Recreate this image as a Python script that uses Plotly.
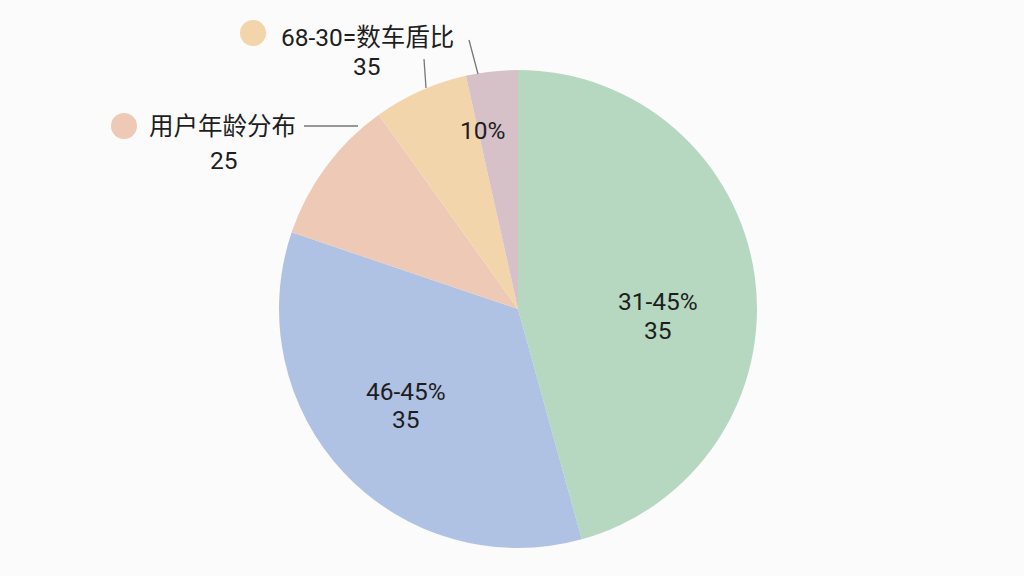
import plotly.graph_objects as go

# slice data, clockwise from 12 o'clock
slice_names = ["31-45%", "46-45%", "用户年龄分布", "68-30=数车盾比", "10%"]
slice_shares = [45.7, 34.5, 9.9, 6.4, 3.5]
slice_values_shown = ["35", "35", "25", "35", ""]
slice_colors = ["#b6d8c1", "#b0c2e4", "#eec9b5", "#f3d5ab", "#d6c1c9"]

W, H = 1024, 576


def px(x):
    return x / W


def py(y):
    return 1 - y / H


cx, cy, r = 518, 309, 239

fig = go.Figure(go.Pie(
    labels=slice_names,
    values=slice_shares,
    sort=False,
    direction="clockwise",
    rotation=0,
    marker=dict(colors=slice_colors, line=dict(width=0)),
    textinfo="none",
    hoverinfo="label+value",
    showlegend=False,
    domain=dict(x=[px(cx - r), px(cx + r)], y=[py(cy + r), py(cy - r)]),
))

font = dict(family="Roboto, Noto Sans CJK SC", size=24.5, color="#1e1e1e")


def label(x, y, txt):
    fig.add_annotation(x=px(x), y=py(y), xref="paper", yref="paper", text=txt,
                       showarrow=False, font=font, xanchor="center", yanchor="middle")


# inside labels
label(658, 301, slice_names[0])
label(658, 330, slice_values_shown[0])
label(406, 391, slice_names[1])
label(406, 419, slice_values_shown[1])
label(482, 130, slice_names[4])

# outside labels
label(367, 37, slice_names[3])
label(367, 67, slice_values_shown[3])
label(222, 126, slice_names[2])
label(224, 160, slice_values_shown[2])

# dots
for (dx, dy, col) in [(253, 33, slice_colors[3]), (124, 126, slice_colors[2])]:
    fig.add_shape(type="circle", xref="paper", yref="paper",
                  x0=px(dx - 13), x1=px(dx + 13), y0=py(dy + 13), y1=py(dy - 13),
                  fillcolor=col, line=dict(width=0))

# leader lines
for (x0, y0, x1, y1) in [(304, 126, 358, 126), (424, 59, 426, 88), (469, 40, 478, 74)]:
    fig.add_shape(type="line", xref="paper", yref="paper",
                  x0=px(x0), y0=py(y0), x1=px(x1), y1=py(y1),
                  line=dict(color="#777777", width=1.3))

fig.update_layout(
    width=W, height=H,
    margin=dict(l=0, r=0, t=0, b=0),
    paper_bgcolor="#fbfbfb",
    plot_bgcolor="#fbfbfb",
)

fig.write_html("out.html", config={"displayModeBar": False},
               post_script="document.body.style.margin='0';")
